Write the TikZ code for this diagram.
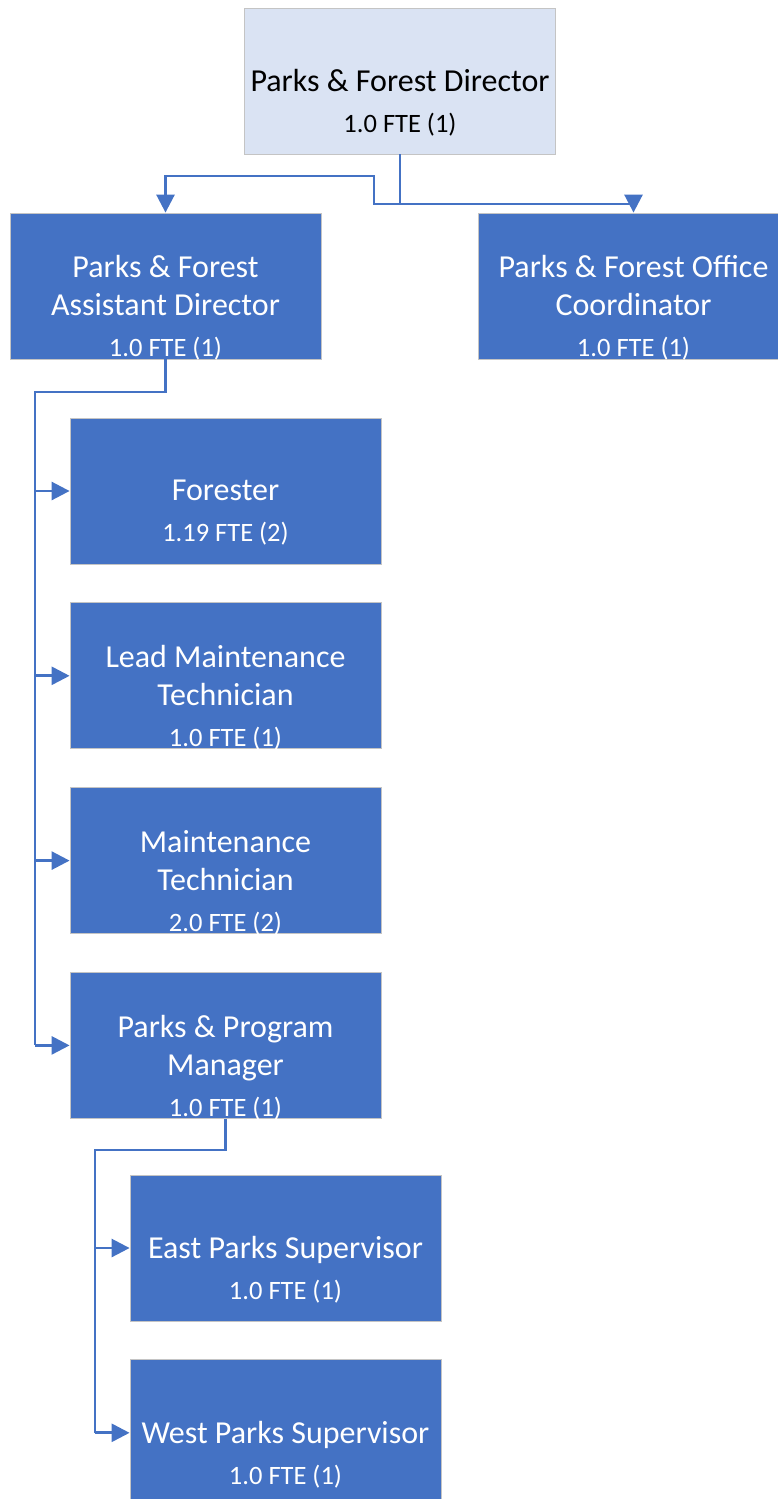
\documentclass[tikz,border=0pt]{standalone}
\usepackage{fontspec}
\setmainfont{Carlito}
\usepackage{xcolor}
\usetikzlibrary{arrows.meta,positioning}

\definecolor{orgblue}{HTML}{4472C4}
\definecolor{orgpale}{HTML}{DAE3F3}
\definecolor{orgedge}{HTML}{C4C4C4}
\newcommand{\ttl}{\fontsize{32}{38}\selectfont}
\newcommand{\fte}{\fontsize{26.5}{38}\selectfont}

\begin{document}
\begin{tikzpicture}[
  x=1pt, y=-1pt,
  node distance=38pt and 60pt,
  boxtext/.style={text=white, align=center, font=\ttl, yshift=-22pt, inner sep=0pt},
  box/.style={draw=orgedge, line width=0.8pt, fill=orgblue, minimum width=311pt, minimum height=146pt, inner sep=0pt, label={[boxtext]center:{#1}}},
  topbox/.style={draw=orgedge, line width=0.8pt, fill=orgpale, minimum width=311pt, minimum height=146pt, inner sep=0pt, label={[boxtext, text=black]center:{#1}}},
  link/.style={draw=orgblue, line width=2.7pt},
  arrow/.style={link, -{Triangle[length=18pt, width=18pt]}}
]
\useasboundingbox (0,0) rectangle (778,1499);

\node[topbox={Parks \& Forest Director\\[3pt]\fte 1.0 FTE (1)}] (director) at (400,81) {};
\node[box={Parks \& Forest\\Assistant Director\\[3pt]\fte 1.0 FTE (1)}] (assistant) at (165.5,286) {};
\node[box={Parks \& Forest Office\\Coordinator\\[3pt]\fte 1.0 FTE (1)}] (office) at (633.5,286) {};

\node[box={Forester\\[3pt]\fte 1.19 FTE (2)}] (forester) at (225.5,491) {};
\node[box={Lead Maintenance\\Technician\\[3pt]\fte 1.0 FTE (1)}, below=of forester] (leadtech) {};
\node[box={Maintenance\\Technician\\[3pt]\fte 2.0 FTE (2)}, below=of leadtech] (maintech) {};
\node[box={Parks \& Program\\Manager\\[3pt]\fte 1.0 FTE (1)}, below=of maintech] (progmgr) {};

\node[box={East Parks Supervisor\\[3pt]\fte 1.0 FTE (1)}] (eastsup) at (285.5,1248) {};
\node[box={West Parks Supervisor\\[3pt]\fte 1.0 FTE (1)}, below=of eastsup] (westsup) {};

% director to its two reports
\coordinate (dirjoin) at (400,204);
\coordinate (dirbend) at (374,204);
\coordinate (dirtop) at (374,176);
\draw[arrow] (director.south) -- (dirjoin) -| (office.north);
\draw[arrow] (dirjoin) -- (dirbend) -- (dirtop) -| (assistant.north);

% assistant director bus
\coordinate (asstbus) at (35,392);
\draw[link] (assistant.south) |- (asstbus) -- (asstbus |- progmgr.west);
\foreach \n in {forester,leadtech,maintech,progmgr}
  \draw[arrow] (asstbus |- \n.west) -- (\n.west);

% program manager bus
\coordinate (mgrbus) at (95,1150);
\draw[link] (progmgr.south) |- (mgrbus) -- (mgrbus |- westsup.west);
\foreach \n in {eastsup,westsup}
  \draw[arrow] (mgrbus |- \n.west) -- (\n.west);
\end{tikzpicture}
\end{document}
